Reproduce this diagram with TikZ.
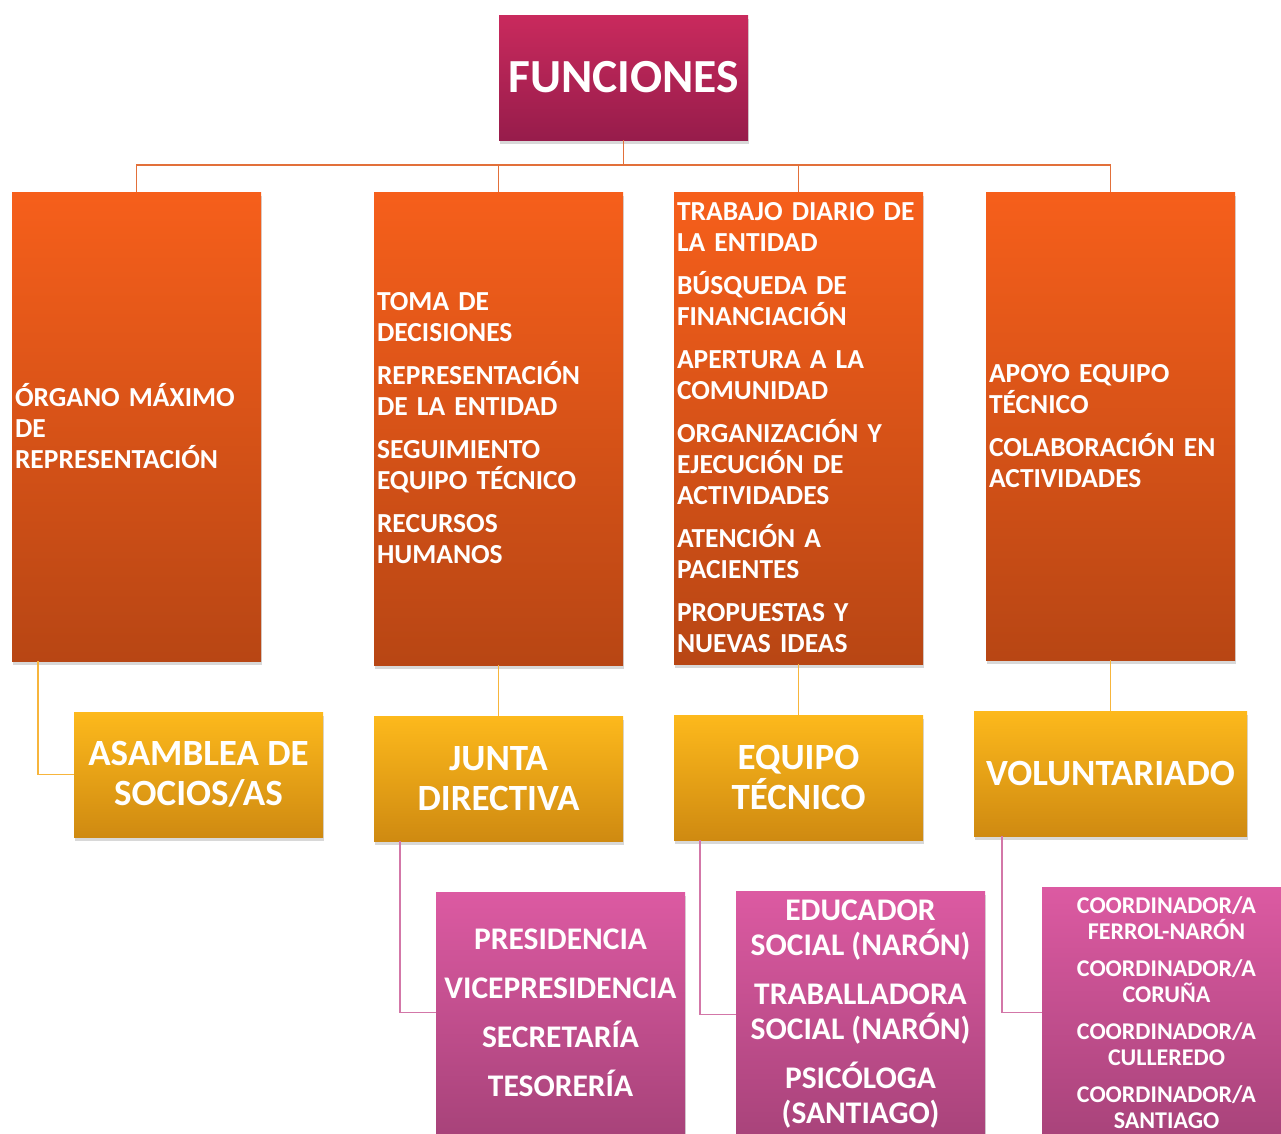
\documentclass[tikz,border=0pt]{standalone}
\usepackage{fontspec}
\setmainfont{Carlito}
\usetikzlibrary{calc}
\usetikzlibrary{shadows}

\definecolor{funtop}{HTML}{C92A5D}
\definecolor{funbot}{HTML}{971C4B}
\definecolor{orgtop}{HTML}{F65F1B}
\definecolor{orgbot}{HTML}{B84614}
\definecolor{ylwtop}{HTML}{FDB91C}
\definecolor{ylwbot}{HTML}{CF8A11}
\definecolor{pnktop}{HTML}{DC5AA2}
\definecolor{pnkbot}{HTML}{A8437A}
\definecolor{toplinec}{HTML}{E2703A}
\definecolor{midlinec}{HTML}{F7B53C}
\definecolor{lowlinec}{HTML}{D377A8}

\newcommand\tightwords{\spaceskip=0.18em plus 0.05em\relax}

\tikzset{
 box/.style={rectangle, inner sep=3pt, text=white, minimum width=249pt,
   drop shadow={shadow xshift=1pt, shadow yshift=-4pt, opacity=.22, fill=black!70}},
 funbox/.style={box, top color=funtop, bottom color=funbot, minimum height=125pt,
   font=\fontsize{47.5}{52}\selectfont\bfseries},
 orgbox/.style={box, top color=orgtop, bottom color=orgbot, text width=243pt, align=left,
   font=\fontsize{27.5}{31}\selectfont\bfseries\tightwords},
 ylwbox/.style={box, top color=ylwtop, bottom color=ylwbot, minimum height=125pt, align=center,
   font=\fontsize{37}{40}\selectfont\bfseries},
 pnkbox/.style={box, top color=pnktop, bottom color=pnkbot, align=center},
 topline/.style={toplinec, line width=1.8pt},
 midline/.style={midlinec, line width=1.8pt},
 lowline/.style={lowlinec, line width=1.8pt}
}

\begin{document}
\begin{tikzpicture}[x=1pt,y=-1pt]
\useasboundingbox (0,0) rectangle (1281,1133);

\node[funbox] (fun) at (623.5,77.5) {FUNCIONES};

\node[orgbox, minimum height=469pt] (o1) at (136.5,426.5)
 {ÓRGANO MÁXIMO\\ DE\\ REPRESENTACIÓN};
\node[orgbox, minimum height=473pt] (o2) at (498.5,428.5)
 {TOMA DE\\ DECISIONES\\[12pt] REPRESENTACIÓN\\ DE LA ENTIDAD\\[12pt]
  SEGUIMIENTO\\ EQUIPO TÉCNICO\\[12pt] RECURSOS\\ HUMANOS};
\node[orgbox, minimum height=472pt] (o3) at (798.5,428)
 {TRABAJO DIARIO DE\\ LA ENTIDAD\\[12pt] BÚSQUEDA DE\\ FINANCIACIÓN\\[12pt]
  APERTURA A LA\\ COMUNIDAD\\[12pt] ORGANIZACIÓN Y\\ EJECUCIÓN DE\\ ACTIVIDADES\\[12pt]
  ATENCIÓN A\\ PACIENTES\\[12pt] PROPUESTAS Y\\ NUEVAS IDEAS};
\node[orgbox, minimum height=468pt] (o4) at (1110.5,426)
 {APOYO EQUIPO\\ TÉCNICO\\[12pt] COLABORACIÓN EN\\ ACTIVIDADES};

\node[ylwbox] (y1) at (198.5,774.5) {ASAMBLEA DE\\ SOCIOS/AS};
\node[ylwbox] (y2) at (498.5,778.5) {JUNTA\\ DIRECTIVA};
\node[ylwbox] (y3) at (798.5,777.5) {EQUIPO\\ TÉCNICO};
\node[ylwbox, minimum width=273pt] (y4) at (1110.5,773.5) {VOLUNTARIADO};

\node[pnkbox, minimum height=241pt, font=\fontsize{31.5}{49}\selectfont\bfseries] (p1) at (560.5,1012.5)
 {PRESIDENCIA\\ VICEPRESIDENCIA\\ SECRETARÍA\\ TESORERÍA};
\node[pnkbox, minimum height=247pt, font=\fontsize{31.5}{35}\selectfont\bfseries] (p2) at (860.5,1014.5)
 {EDUCADOR\\ SOCIAL (NARÓN)\\[14pt] TRABALLADORA\\ SOCIAL (NARÓN)\\[14pt] PSICÓLOGA\\ (SANTIAGO)};
\node[pnkbox, minimum height=251pt, font=\fontsize{24}{26}\selectfont\bfseries] (p3) at (1166.5,1012.5)
 {COORDINADOR/A\\ FERROL-NARÓN\\[11pt] COORDINADOR/A\\ CORUÑA\\[11pt]
  COORDINADOR/A\\ CULLEREDO\\[11pt] COORDINADOR/A\\ SANTIAGO};

\coordinate (hub) at (623.5,165);
\draw[topline] (fun.south) -- (hub);
\foreach \n in {o1,o2,o3,o4}
 \draw[topline] (hub) -| (\n.north);

\draw[midline] ($(o1.south west)+(26,0)$) |- (y1.west);
\foreach \n in {2,3,4}
 \draw[midline] (o\n.south) -- (y\n.north);

\draw[lowline] ($(y2.south west)+(26,0)$) |- (p1.west);
\draw[lowline] ($(y3.south west)+(26,0)$) |- (p2.west);
\draw[lowline] ($(y4.south west)+(28,0)$) |- (p3.west);
\end{tikzpicture}
\end{document}
